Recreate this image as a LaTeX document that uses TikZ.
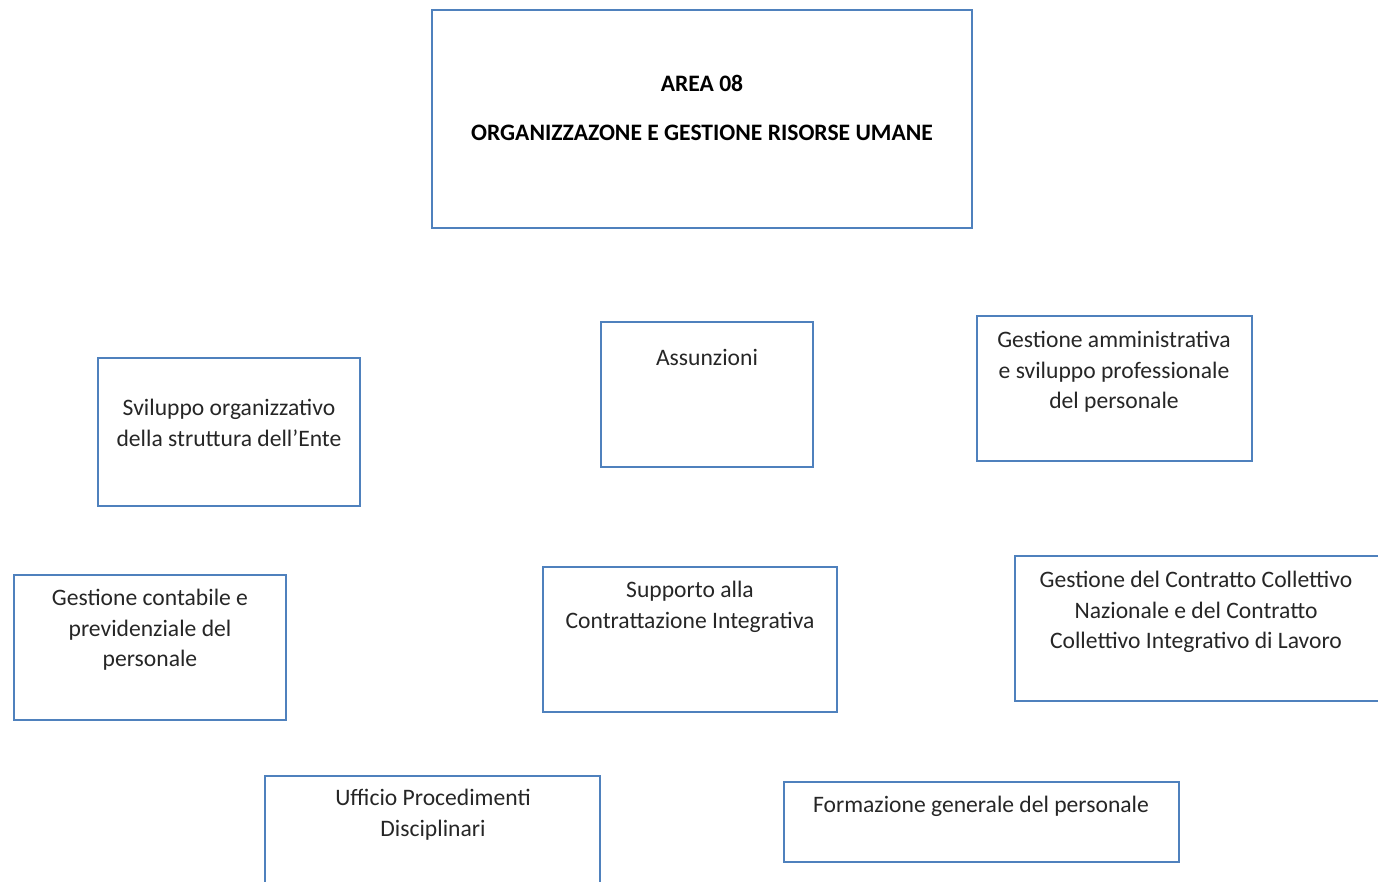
\documentclass[tikz,border=0pt]{standalone}
\usepackage{fontspec}
\setmainfont{Carlito}
\definecolor{boxblue}{RGB}{79,129,189}
\begin{document}
\begin{tikzpicture}[x=1pt,y=-1pt,
  box/.style={draw=boxblue,line width=1.4pt},
  lbl/.style={anchor=north,align=center,inner sep=0pt,text=black!85,
              font=\fontsize{23.6}{30.5}\selectfont},
  title/.style={anchor=center,inner sep=0pt,text=black,
              font=\fontsize{23.6}{30}\selectfont\bfseries}]
\useasboundingbox (0,0) rectangle (1378,882);
% frames of the units
\draw[box] (432,10) rectangle (972,228);
\draw[box] (98,358) rectangle (360,506);
\draw[box] (601,322) rectangle (813,467);
\draw[box] (977,316) rectangle (1252,461);
\draw[box] (14,575) rectangle (286,720);
\draw[box] (543,567) rectangle (837,712);
\draw[box] (1015,556) rectangle (1381,701);
\draw[box] (265,890) -- (265,776) -- (600,776) -- (600,890);
\draw[box] (784,782) rectangle (1179,862);
% area heading
\node[title] (area) at (702,83) {AREA 08};
\node[title] (areaname) at (702,133) {ORGANIZZAZONE E GESTIONE RISORSE UMANE};
% units
\node[lbl] (svil) at (229,399) {Sviluppo organizzativo\\della struttura dell’Ente};
\node[lbl] (assu) at (707,349) {Assunzioni};
\node[lbl] (gamm) at (1114,331) {Gestione amministrativa\\e sviluppo professionale\\del personale};
\node[lbl] (gcon) at (150,589) {Gestione contabile e\\previdenziale del\\personale};
\node[lbl] (supp) at (690,581) {Supporto alla\\Contrattazione Integrativa};
\node[lbl] (gccn) at (1196,571) {Gestione del Contratto Collettivo\\Nazionale e del Contratto\\Collettivo Integrativo di Lavoro};
\node[lbl] (upd) at (433,789) {Ufficio Procedimenti\\Disciplinari};
\node[lbl] (form) at (981,796) {Formazione generale del personale};
\end{tikzpicture}
\end{document}
